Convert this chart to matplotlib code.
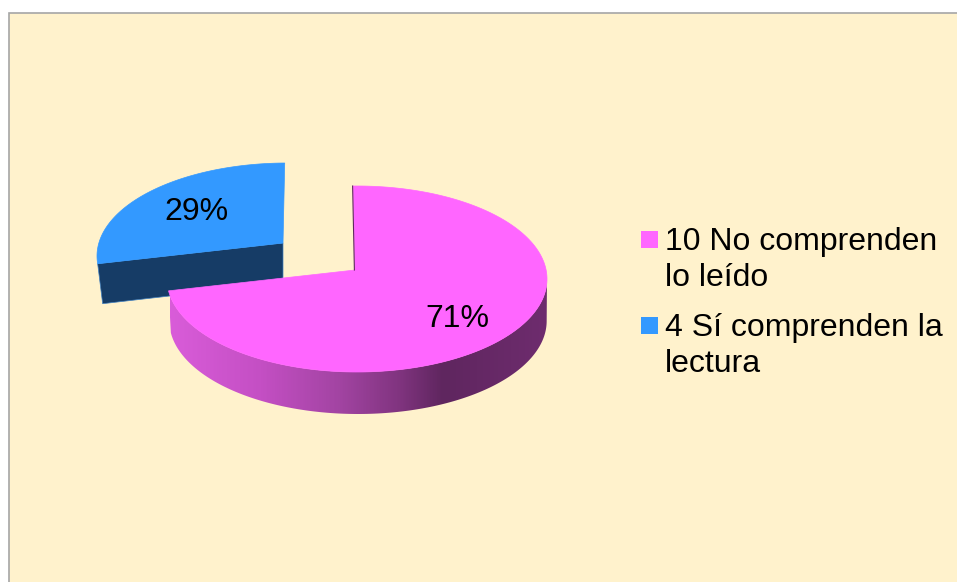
import numpy as np
import matplotlib
matplotlib.use('Agg')
import matplotlib.pyplot as plt
from matplotlib.patches import Polygon, Rectangle
from matplotlib.colors import LinearSegmentedColormap

plt.rcParams['font.family'] = ['Liberation Sans', 'DejaVu Sans']

values = [10, 4]
labels = ['10 No comprenden\nlo leído', '4 Sí comprenden la\nlectura']
top_colors = ['#ff66ff', '#3399ff']
dark_blue = '#163c66'

W, H = 957, 582
FONT = 23

# shading of the pink wall, from left to right
wall_x = [170, 260, 340, 400, 443, 547]
wall_c = ['#d95cd9', '#c44fc4', '#a244a2', '#80347f', '#5f265f', '#6e2c6e']


def rim(apex, center, rx, ry, t):
    # ray from the apex to the ellipse edge, t in degrees clockwise from top
    t = np.radians(t)
    dx, dy = rx * np.sin(t), -ry * np.cos(t)
    ox, oy = (apex[0] - center[0]) / rx, (apex[1] - center[1]) / ry
    ux, uy = dx / rx, dy / ry
    a = ux ** 2 + uy ** 2
    b = 2 * (ox * ux + oy * uy)
    c = ox ** 2 + oy ** 2 - 1
    s = (-b + np.sqrt(b ** 2 - 4 * a * c)) / (2 * a)
    return apex[0] + s * dx, apex[1] + s * dy


fig = plt.figure(figsize=(W / 100, H / 100), dpi=100, facecolor='white')
ax = fig.add_axes([0, 0, 1, 1])
ax.axis('off')

ax.add_patch(Rectangle((9, 13), W, H, facecolor='#fff2cc', edgecolor='#a6a6a6', lw=1.2))

total = sum(values)
end_angle = 360 * values[0] / total
LEAN = 0.6  # the cut edges lean a little, as in the 3d view

# blue slice, pulled out of the pie
apex_b = (283, 243)
center_b = (287, 256)
t_b = np.linspace(end_angle, 360 + LEAN, 120)
bx, by = rim(apex_b, center_b, 190, 93, t_b)
depth_b = 40
ax.add_patch(Polygon([(bx[0], by[0]), apex_b, (apex_b[0], apex_b[1] + depth_b),
                      (bx[0] + 5, by[0] + depth_b)], closed=True, facecolor=dark_blue,
                     edgecolor='#3f7fc0', lw=0.5))
ax.add_patch(Polygon(np.vstack([[apex_b], np.column_stack([bx, by])]), closed=True,
                     facecolor=top_colors[1], edgecolor=top_colors[1], lw=0.5))

# pink slice
apex_p = (355, 270)
center_p = (357, 279)
t_p = np.linspace(-LEAN, end_angle, 500)
px, py = rim(apex_p, center_p, 190, 93, t_p)
depth_p = 42

cmap = LinearSegmentedColormap.from_list(
    'wall', [((x - wall_x[0]) / (wall_x[-1] - wall_x[0]), c) for x, c in zip(wall_x, wall_c)])
start = np.argmax(px)
wx, wy = px[start:], py[start:]
low_x = center_p[0] + 1 + (wx - center_p[0]) * 0.993
wall = Polygon(np.vstack([np.column_stack([wx, wy]),
                          np.column_stack([low_x, wy + depth_p])[::-1]]),
               closed=True, facecolor='none', edgecolor='none', transform=ax.transData)
ax.add_patch(wall)
grad = ax.imshow(np.linspace(0, 1, 400).reshape(1, -1), cmap=cmap, aspect='auto',
                 extent=(wall_x[0], wall_x[-1], 450, 270), zorder=1.5)
grad.set_clip_path(wall)

ax.add_patch(Polygon(np.vstack([[apex_p], np.column_stack([px, py])]), closed=True,
                     facecolor=top_colors[0], edgecolor=top_colors[0], lw=0.5, zorder=2))
ax.plot([px[0] - 0.6, apex_p[0] - 0.6], [py[0], apex_p[1]], color='#5f265f', lw=0.8, zorder=2)

# percentage labels
pct = [f'{round(100 * v / total)}%' for v in values]
ax.text(457, 319, pct[0], fontsize=FONT, ha='center', va='center', color='black', zorder=3)
ax.text(196, 212, pct[1], fontsize=FONT, ha='center', va='center', color='black', zorder=3)

# legend, the squares sit on the first line of each entry
for y, lab, col in zip([239, 325], labels, top_colors):
    ax.add_patch(Rectangle((641, y - 8), 17, 17, facecolor=col, edgecolor='none'))
    ax.text(665, y - 12, lab, fontsize=FONT, ha='left', va='top', color='black', linespacing=1.26)

ax.set_xlim(0, W)
ax.set_ylim(H, 0)
fig.savefig('out.png', dpi=100)
